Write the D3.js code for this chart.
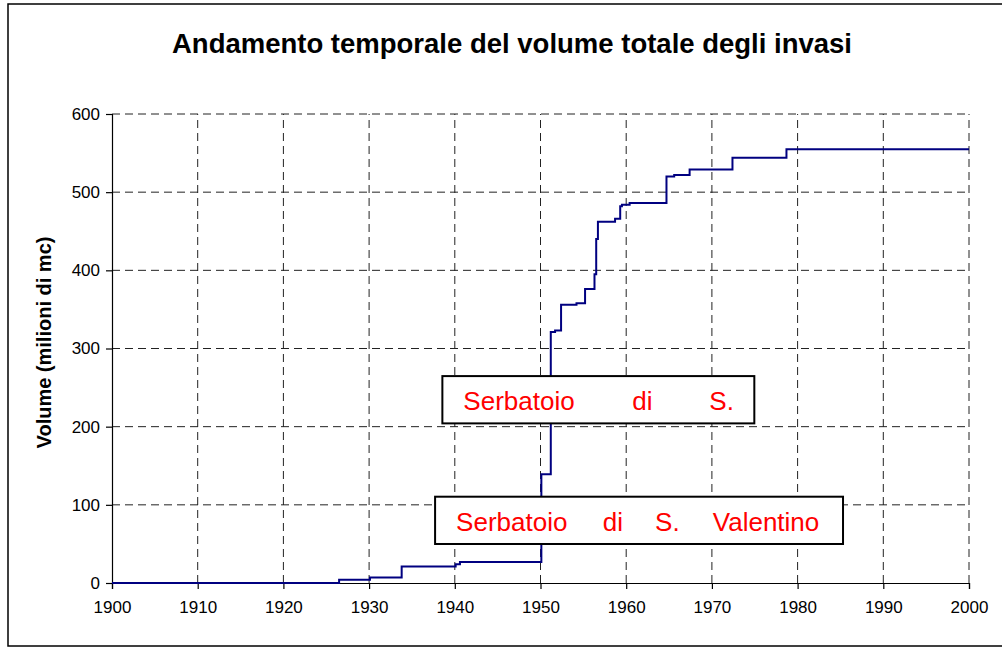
<!DOCTYPE html>
<html>
<head>
<meta charset="utf-8">
<script src="https://cdn.jsdelivr.net/npm/d3@7/dist/d3.min.js"></script>
<style>
  body { margin: 0; background: #fff; }
  text { font-family: "Liberation Sans", Arial, sans-serif; }
</style>
</head>
<body>
<div id="view"></div>
<script>
var width = 1002, height = 648;

// anni in cui cambia il volume totale (gradini)
var anni = [1900, 1926.5, 1930.1, 1933.8, 1940.1, 1940.6, 1950.1, 1951.2, 1951.7, 1952.4,
            1954.2, 1955.2, 1956.3, 1956.5, 1956.7, 1958.7, 1959.3, 1959.5, 1960.4,
            1964.7, 1965.6, 1967.4, 1972.4, 1978.7, 2000];
// volume totale (milioni di mc)
var volumi = [0, 4, 7, 21, 24, 27, 139, 321, 323, 356,
              358, 376, 395, 440, 462, 466, 482, 484, 486,
              520, 522, 529, 544, 555, 555];

var xTicks = [1900, 1910, 1920, 1930, 1940, 1950, 1960, 1970, 1980, 1990, 2000];
var yTicks = [0, 100, 200, 300, 400, 500, 600];

var titolo = "Andamento temporale del volume totale degli invasi";
var titoloY = "Volume (milioni di mc)";
var note1 = ["Serbatoio", "di", "S."];
var note2 = ["Serbatoio", "di", "S.", "Valentino"];

var margin = { left: 112, right: 1002 - 969, top: 114, bottom: 648 - 583 };

var svg = d3.select("#view").append("svg")
	.attr("width", width)
	.attr("height", height);

// cornice esterna
svg.append("rect")
	.attr("x", 8).attr("y", 4)
	.attr("width", 1000).attr("height", 642)
	.style("fill", "#fff")
	.style("stroke", "#000")
	.style("stroke-width", 1.5);

var x = d3.scaleLinear().domain([1900, 2000]).range([margin.left, width - margin.right]);
var y = d3.scaleLinear().domain([0, 600]).range([height - margin.bottom, margin.top]);

// griglia tratteggiata
svg.append("g").selectAll("line")
	.data(xTicks.slice(1)).enter()
	.append("line")
	.attr("x1", function(d) { return x(d); })
	.attr("x2", function(d) { return x(d); })
	.attr("y1", y(0)).attr("y2", y(600))
	.style("stroke", "#222")
	.style("stroke-dasharray", "8,5");

svg.append("g").selectAll("line")
	.data(yTicks.slice(1)).enter()
	.append("line")
	.attr("x1", x(1900)).attr("x2", x(2000))
	.attr("y1", function(d) { return y(d); })
	.attr("y2", function(d) { return y(d); })
	.style("stroke", "#222")
	.style("stroke-dasharray", "8,5");

// assi
var xAxis = svg.append("g")
	.attr("transform", "translate(0," + y(0) + ")")
	.call(d3.axisBottom(x).tickValues(xTicks).tickFormat(d3.format("d")).tickSizeOuter(0).tickSize(6).tickPadding(12));
var yAxis = svg.append("g")
	.attr("transform", "translate(" + x(1900) + ",0)")
	.call(d3.axisLeft(y).tickValues(yTicks).tickSizeOuter(0).tickSize(6).tickPadding(6));

[xAxis, yAxis].forEach(function(a) {
	a.selectAll("path, line").style("stroke", "#000").style("stroke-width", 1.2);
	a.selectAll("text")
		.style("font-family", "'Liberation Sans', Arial, sans-serif")
		.style("font-size", "17px")
		.style("fill", "#000");
});

// linea a gradini
var punti = anni.map(function(a, i) { return [a, volumi[i]]; });
svg.append("path")
	.datum(punti)
	.attr("d", d3.line()
		.x(function(d) { return x(d[0]); })
		.y(function(d) { return y(d[1]); })
		.curve(d3.curveStepAfter))
	.style("fill", "none")
	.style("stroke", "#000080")
	.style("stroke-width", 2);

// titolo
svg.append("text")
	.attr("x", 512).attr("y", 53)
	.attr("text-anchor", "middle")
	.style("font-size", "27.5px")
	.style("font-weight", "bold")
	.text(titolo);

svg.append("text")
	.attr("transform", "translate(51," + (y(300) - 6) + ") rotate(-90)")
	.attr("text-anchor", "middle")
	.style("font-size", "20px")
	.style("font-weight", "bold")
	.text(titoloY);

// riquadri di testo
function nota(parole, x0, x1, v0, v1, offs) {
	var g = svg.append("g");
	g.append("rect")
		.attr("x", x(x0)).attr("y", y(v0))
		.attr("width", x(x1) - x(x0)).attr("height", y(v1) - y(v0))
		.style("fill", "#fff")
		.style("stroke", "#000")
		.style("stroke-width", 2);
	g.selectAll("text")
		.data(parole).enter()
		.append("text")
		.attr("x", function(d, i) { return x(x0) + offs[i]; })
		.attr("y", y(v1) - 13)
		.style("font-size", "26px")
		.style("fill", "#ff0000")
		.text(function(d) { return d; });
}
nota(note1, 1938.55, 1974.95, 264.7, 204.2, [21, 190, 267]);
nota(note2, 1937.7, 1985.3, 110.4, 49.9, [21, 167.7, 220, 277.7]);
</script>
</body>
</html>
